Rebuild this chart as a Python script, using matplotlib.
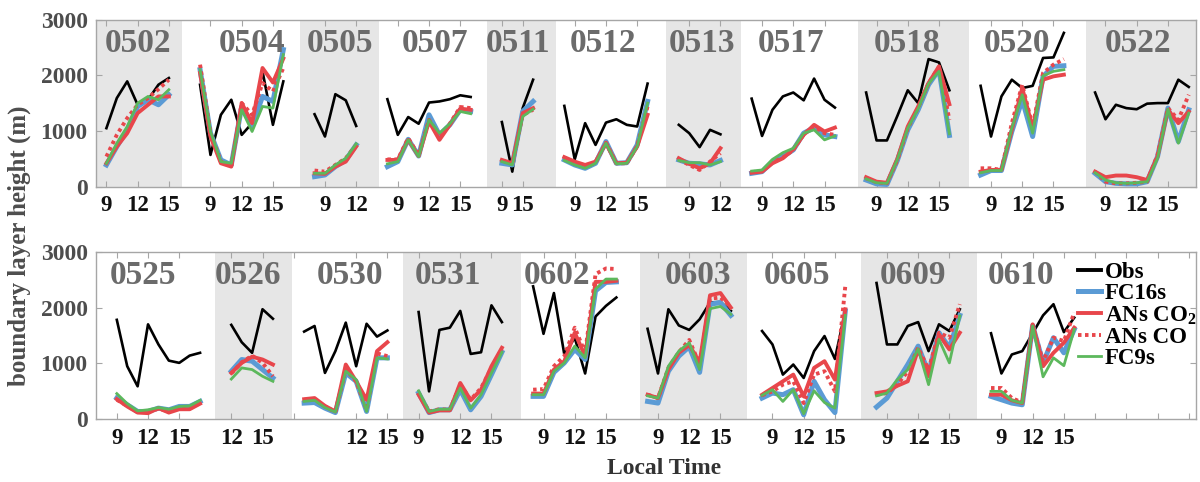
import numpy as np
import matplotlib.pyplot as plt

plt.rcParams["font.family"] = ["Liberation Serif", "DejaVu Serif"]
plt.rcParams["font.weight"] = "bold"
plt.rcParams["mathtext.fontset"] = "custom"
plt.rcParams["mathtext.rm"] = "Liberation Serif:bold"
plt.rcParams["mathtext.bf"] = "Liberation Serif:bold"

# ---------------- upper row ----------------
days_a = ["0502", "0504", "0505", "0507", "0511", "0512",
          "0513", "0517", "0518", "0520", "0522"]
start_a = [1, 10, 21, 28, 39, 45, 56, 63, 74, 85, 96]   # sample index of first point

obs_a = [
    [1050, 1590, 1890, 1470, 1560, 1830, 1950],
    [1830, 570, 1290, 1560, 930, 1140, 2070, 1110, 1890],
    [1300, 900, 1660, 1550, 1090],
    [1570, 930, 1250, 1130, 1510, 1530, 1570, 1640, 1610],
    [1160, 270, 1410, 1920],
    [1450, 490, 1140, 750, 1150, 1210, 1110, 1080, 1850],
    [1110, 960, 710, 1020, 940],
    [1580, 910, 1380, 1620, 1690, 1550, 1940, 1560, 1420],
    [1690, 830, 830, 1270, 1730, 1500, 2290, 2230, 1730],
    [1810, 900, 1620, 1920, 1770, 1810, 2310, 2320, 2760],
    [1690, 1210, 1470, 1410, 1390, 1490, 1500, 1500, 1920, 1790],
]
fc16_a = [
    [390, 720, 1020, 1440, 1560, 1470, 1650],
    [2100, 960, 480, 390, 1440, 1080, 1620, 1530, 2460],
    [180, 210, 360, 480, 750],
    [360, 450, 850, 550, 1290, 930, 1110, 1380, 1350],
    [420, 390, 1350, 1530],
    [480, 390, 330, 420, 810, 420, 430, 750, 1530],
    [480, 420, 410, 390, 470],
    [240, 270, 450, 540, 660, 960, 1060, 930, 900],
    [120, 50, 40, 470, 1020, 1380, 1830, 2100, 920],
    [210, 290, 290, 990, 1560, 900, 1980, 2160, 2170],
    [240, 90, 60, 50, 50, 90, 540, 1410, 810, 1380],
]
co2_a = [
    [420, 720, 960, 1320, 1470, 1620, 1620],
    [2040, 900, 420, 360, 1500, 1140, 2130, 1870, 2300],
    [240, 230, 360, 450, 720],
    [480, 480, 840, 550, 1170, 840, 1110, 1400, 1380],
    [480, 420, 1320, 1410],
    [530, 450, 390, 450, 780, 420, 430, 720, 1290],
    [510, 410, 330, 420, 690],
    [250, 270, 420, 510, 670, 930, 1110, 990, 1060],
    [170, 90, 70, 500, 1080, 1440, 1860, 2160, 1480],
    [270, 300, 300, 1020, 1770, 1050, 1920, 1980, 2010],
    [270, 170, 200, 200, 170, 120, 540, 1380, 1140, 1350],
]
co_a = [
    [540, 930, 1230, 1470, 1590, 1750, 1920],
    [2190, 960, 450, 360, 1500, 1290, 1860, 1710, 2130],
    [290, 270, 390, 510, 750],
    [490, 490, 870, 560, 1200, 900, 1130, 1430, 1410],
    [470, 410, 1290, 1380],
    [510, 430, 360, 430, 790, 420, 420, 730, 1440],
    [490, 390, 300, 450, 600],
    [260, 280, 440, 520, 660, 940, 1080, 960, 930],
    [150, 80, 60, 480, 1050, 1420, 1860, 2150, 1200],
    [330, 330, 300, 1140, 1830, 1080, 2040, 2190, 2290],
    [270, 90, 60, 60, 70, 90, 570, 1410, 1200, 1650],
]
fc9_a = [
    [420, 780, 1080, 1500, 1620, 1560, 1740],
    [2100, 990, 450, 420, 1380, 990, 1440, 1410, 2370],
    [240, 240, 390, 510, 770],
    [410, 450, 840, 540, 1200, 960, 1130, 1350, 1310],
    [450, 390, 1260, 1390],
    [470, 390, 330, 420, 780, 410, 420, 720, 1500],
    [470, 430, 430, 390, 450],
    [280, 300, 490, 610, 690, 960, 1020, 840, 910],
    [140, 70, 60, 490, 1050, 1400, 1850, 2070, 950],
    [250, 290, 290, 1050, 1650, 960, 1990, 2070, 2100],
    [250, 120, 70, 60, 70, 90, 510, 1390, 780, 1320],
]
ticks_a = [1, 4, 7, 11, 14, 17, 22, 25, 29, 32, 35, 39, 41, 46, 49, 52,
           57, 60, 64, 67, 70, 75, 78, 81, 86, 89, 92, 97, 100, 103]
ticklabels_a = ["9", "12", "15", "9", "12", "15", "9", "12", "9", "12", "15",
                "9", "15", "9", "12", "15", "9", "12", "9", "12", "15",
                "9", "12", "15", "9", "12", "15", "9", "12", "15"]

# ---------------- lower row ----------------
days_b = ["0525", "0526", "0530", "0531", "0602", "0603", "0605", "0609", "0610"]
start_b = [2, 13, 20, 31, 42, 53, 64, 75, 86]

obs_b = [
    [1780, 950, 590, 1700, 1340, 1050, 1010, 1140, 1190],
    [1690, 1380, 1190, 1970, 1800],
    [1570, 1670, 830, 1220, 1730, 950, 1710, 1480, 1590],
    [1920, 500, 1600, 1640, 1940, 1170, 1200, 2040, 1740],
    [2380, 1530, 2260, 1160, 1460, 820, 1840, 2030, 2180],
    [1620, 820, 1970, 1680, 1600, 1790, 2090, 2100, 1940],
    [1580, 1340, 800, 980, 740, 1220, 1490, 1080, 1940],
    [2440, 1340, 1340, 1670, 1740, 1220, 1700, 1580, 1970],
    [1540, 820, 1160, 1220, 1540, 1860, 2060, 1560, 1820],
]
fc16_b = [
    [380, 260, 140, 140, 200, 170, 230, 230, 320],
    [860, 1070, 1040, 890, 740],
    [290, 300, 200, 120, 830, 680, 140, 1100, 1100],
    [470, 120, 170, 170, 530, 170, 410, 800, 1200],
    [410, 410, 840, 1010, 1250, 1070, 2300, 2450, 2460],
    [320, 290, 860, 1130, 1300, 840, 2060, 2090, 1860],
    [380, 470, 440, 530, 80, 680, 350, 120, 1940],
    [220, 380, 680, 980, 1310, 830, 1550, 1280, 1860],
    [410, 350, 290, 260, 1680, 1010, 1460, 1190, 1610],
]
co2_b = [
    [360, 230, 120, 110, 200, 120, 180, 180, 280],
    [830, 1010, 1120, 1070, 980],
    [360, 380, 240, 140, 980, 680, 350, 1220, 1380],
    [440, 120, 160, 160, 650, 340, 530, 950, 1280],
    [460, 460, 890, 1040, 1550, 1130, 2460, 2460, 2480],
    [440, 380, 890, 1190, 1330, 1020, 2220, 2260, 2000],
    [440, 560, 680, 800, 410, 920, 1040, 710, 1970],
    [470, 500, 600, 680, 1250, 770, 1520, 1250, 1550],
    [440, 440, 340, 290, 1700, 950, 1190, 1370, 1640],
]
co_b = [
    [350, 240, 130, 130, 190, 140, 200, 200, 290],
    [820, 1020, 1140, 1010, 770],
    [350, 350, 230, 130, 890, 680, 170, 1180, 1130],
    [470, 140, 180, 170, 620, 350, 560, 920, 1260],
    [530, 540, 950, 1130, 1640, 1190, 2600, 2700, 2690],
    [440, 380, 920, 1200, 1420, 980, 2160, 2180, 2020],
    [430, 500, 620, 680, 290, 800, 860, 500, 2390],
    [440, 470, 620, 860, 1280, 890, 1550, 1460, 2060],
    [560, 560, 380, 300, 1670, 1040, 1460, 1400, 1910],
]
fc9_b = [
    [460, 280, 150, 170, 210, 180, 230, 240, 340],
    [720, 920, 890, 770, 680],
    [320, 340, 210, 130, 860, 710, 140, 1100, 1080],
    [510, 140, 180, 180, 560, 200, 440, 830, 1200],
    [440, 440, 860, 1010, 1310, 1100, 2330, 2510, 2510],
    [420, 380, 950, 1220, 1370, 890, 1980, 2020, 1880],
    [430, 530, 320, 530, 100, 510, 300, 200, 1860],
    [420, 470, 710, 890, 1260, 620, 1430, 1010, 1850],
    [500, 500, 340, 290, 1670, 760, 1100, 960, 1610],
]
ticks_b = [2, 5, 8, 13, 16, 19, 25, 28, 31, 35, 38, 43, 46, 49,
           54, 57, 60, 65, 68, 71, 76, 79, 82, 87, 90, 93, 96, 99, 102, 105]
ticklabels_b = ["9", "12", "15", "12", "15", "", "12", "15", "9", "12", "15",
                "9", "12", "15", "9", "12", "15", "9", "12", "15",
                "9", "12", "15", "9", "12", "15", "", "", "", ""]

# shaded day blocks (index units)
shade_a = [(0, 8.3), (19.6, 27.2), (37.6, 44.2), (54.8, 62.0), (73.2, 83.9), (95.1, 106)]
shade_b = [(11.4, 18.8), (29.5, 40.8), (52.3, 62.6), (73.5, 84.7)]
# centre of the date tag above each day
tag_x_a = [4.0, 15.0, 23.4, 32.6, 40.6, 48.7, 58.2, 66.8, 77.9, 88.5, 100.1]
tag_x_b = [4.5, 14.6, 24.4, 33.8, 44.3, 57.8, 67.4, 78.5, 88.9]

c_obs = "black"
c_fc16 = "#5b9bd5"
c_red = "#e8464b"
c_fc9 = "#5cb85c"
c_tag = "#6b6b6b"
c_axis = "#a6a6a6"


def draw_row(ax, days, start, obs, fc16, co2, co, fc9, ticks, labels, shade, tag_x):
    for x0, x1 in shade:
        ax.axvspan(x0, x1, color="#e6e6e6", lw=0, zorder=0)
    for i, d in enumerate(days):
        x = start[i] + np.arange(len(obs[i]))
        ax.plot(x, obs[i], color=c_obs, lw=1.9, zorder=2)
        ax.plot(x, fc16[i], color=c_fc16, lw=3.6, zorder=3)
        ax.plot(x, co2[i], color=c_red, lw=2.8, zorder=4)
        ax.plot(x, co[i], color=c_red, lw=2.8, ls=(0, (0.9, 0.9)), zorder=5)
        ax.plot(x, fc9[i], color=c_fc9, lw=2.0, zorder=6)
        ax.text(tag_x[i], 2570, d, ha="center", va="center", fontsize=24,
                fontweight="bold", color=c_tag, zorder=7)
    ax.set_xlim(0, 105.7)
    ax.set_ylim(0, 3000)
    ax.set_xticks(ticks)
    ax.set_xticklabels(labels, fontsize=16.5, fontweight="bold", color="#111111")
    ax.set_yticks([0, 1000, 2000, 3000])
    ax.set_yticklabels(["0", "1000", "2000", "3000"], fontsize=17,
                       fontweight="bold", color="#4d4d4d")
    ax.tick_params(direction="in", top=True, right=True, length=4,
                   color=c_axis, width=0.8, pad=6)
    for s in ax.spines.values():
        s.set_color(c_axis)
        s.set_linewidth(1.0)


fig = plt.figure(figsize=(12, 4.82), dpi=100)
ax1 = fig.add_axes([0.08, 0.6127, 0.9167, 0.3468])
ax2 = fig.add_axes([0.08, 0.1301, 0.9167, 0.3477])

draw_row(ax1, days_a, start_a, obs_a, fc16_a, co2_a, co_a, fc9_a,
         ticks_a, ticklabels_a, shade_a, tag_x_a)
draw_row(ax2, days_b, start_b, obs_b, fc16_b, co2_b, co_b, fc9_b,
         ticks_b, ticklabels_b, shade_b, tag_x_b)

handles = [
    plt.Line2D([], [], color=c_obs, lw=2.8),
    plt.Line2D([], [], color=c_fc16, lw=3.6),
    plt.Line2D([], [], color=c_red, lw=2.8),
    plt.Line2D([], [], color=c_red, lw=2.8, ls=(0, (0.9, 0.9))),
    plt.Line2D([], [], color=c_fc9, lw=2.0),
]
names = ["Obs", "FC16s", "ANs CO$_2$", "ANs CO", "FC9s"]
leg = ax2.legend(handles, names, loc="upper left", bbox_to_anchor=(0.893, 0.94),
                 frameon=False, handlelength=1.0, handletextpad=0.15,
                 labelspacing=0.0, borderaxespad=0, borderpad=0,
                 prop={"size": 16.5, "weight": "bold"})

fig.text(0.016, 0.49, "boundary layer height (m)", rotation=90, ha="center",
         va="center", fontsize=18, fontweight="bold", color="#4d4d4d")
fig.text(0.553, 0.028, "Local Time", ha="center", va="center", fontsize=17,
         fontweight="bold", color="#333333")

fig.savefig("out.png", dpi=100)
